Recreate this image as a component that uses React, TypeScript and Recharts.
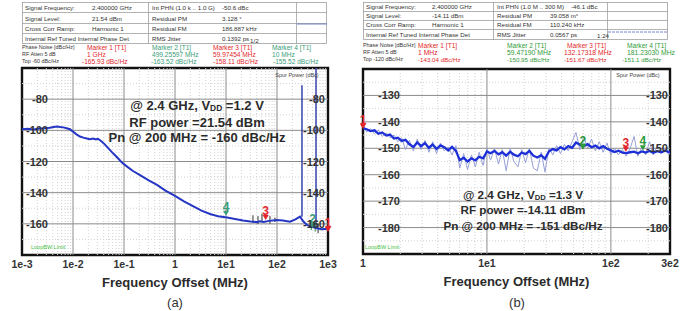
import React from 'react'
import { ComposedChart, Line, XAxis, YAxis, ReferenceLine, ReferenceArea, ReferenceDot } from 'recharts'

const FONT = '"Liberation Sans", Arial, Helvetica, sans-serif'
const RED = '#e3262c'
const GREEN_A = '#3a9e7a'
const GREEN_B = '#2f9a3a'
const INK = '#333'

// (a) VDD = 1.2 V, offset in MHz, phase noise in dBc/Hz
const freqA = [
  0.001, 0.0013, 0.0017, 0.0022, 0.0028, 0.0035, 0.0042, 0.0048, 0.0056, 0.0065,
  0.0075, 0.0087, 0.01, 0.0115, 0.0137, 0.016, 0.0185, 0.0215, 0.025, 0.028,
  0.031, 0.036, 0.042, 0.046, 0.058, 0.073, 0.09, 0.115, 0.15, 0.206,
  0.3, 0.444, 0.65, 1, 1.5, 2.25, 3.3, 4.86, 7, 10.5,
  15, 21.5, 30, 40, 46.4, 55, 70, 100, 130, 180,
  230, 282, 330, 387, 450, 520, 608, 750, 1000,
]
const pnA = [
  -99.3, -99.0, -99.4, -98.8, -98.7, -98.3, -97.9, -97.6, -97.9, -98.1,
  -98.7, -99.3, -100.8, -102.4, -104.0, -104.7, -105.2, -105.7, -105.3, -105.9,
  -105.4, -107.0, -109.0, -110.5, -114.0, -117.3, -120.5, -123.3, -126.1, -128.7,
  -131.9, -135.0, -138.7, -142.1, -145.6, -148.6, -151.5, -153.7, -155.1, -156.0,
  -156.9, -157.9, -158.5, -158.9, -158.4, -158.8, -158.1, -157.5, -157.9, -158.6,
  -157.1, -155.4, -158.5, -160.7, -161.6, -162.2, -162.9, -163.4, -163.1,
]
const xTicksA = [0.001, 0.01, 0.1, 1, 10, 100, 1000]
const xLabelsA = ['1e-3', '1e-2', '1e-1', '1', '1e1', '1e2', '1e3']
const yTicksA = [-80, -100, -120, -140, -160]
const yMinorA = [-70, -90, -110, -130, -150, -170]
const markerFreqA = [1000, 499.26, 59.97, 10]
const markerPnA = [-165.93, -163.52, -158.11, -155.52]
const spurLineFreqA = [309, 582]
const spurLineTopA = [-71, -60]
const spurLineBottomA = [-155.4, -162.4]
const spurTickFreqA = [33.8, 42.4, 50.8, 72.9, 91.2, 470, 560, 640]
const spurTickHiA = [-154.5, -155, -153.5, -155, -156, -158, -159, -160]
const spurTickLoA = [-159.5, -160, -159, -160, -158.8, -164, -165, -166]

// (b) VDD = 1.3 V
const freqB = [
  1, 1.07, 1.15, 1.24, 1.33, 1.43, 1.54, 1.65, 1.78, 1.91,
  2.05, 2.2, 2.37, 2.55, 2.74, 2.94, 3.16, 3.4, 3.65, 3.92,
  4.22, 4.53, 4.87, 5.23, 5.62, 6.04, 6.49, 6.98, 7.5, 8.06,
  8.66, 9.31, 10, 10.7, 11.5, 12.4, 13.3, 14.3, 15.4, 16.5,
  17.8, 19.1, 20.5, 22, 23.7, 25.5, 27.4, 29.4, 31.6, 34,
  36.5, 39.2, 42.2, 45.3, 48.7, 52.3, 56.2, 60.4, 64.9, 69.8,
  75, 80.6, 86.6, 93.1, 100, 107, 115, 124, 133, 143,
  154, 165, 178, 191, 205, 220, 237, 255, 274, 294,
  300,
]
const pnB = [
  -142.4, -142.8, -143.5, -143.2, -144.5, -144.0, -145.2, -144.8, -146.3, -146.0,
  -147.2, -146.8, -148.5, -149.5, -147.8, -149.2, -148.0, -149.8, -148.6, -150.2,
  -148.9, -149.6, -150.8, -149.5, -151.0, -154.5, -153.6, -155.0, -153.8, -154.6,
  -153.2, -153.8, -151.2, -151.9, -151.0, -152.3, -151.5, -152.8, -151.3, -152.4,
  -153.0, -151.6, -152.2, -151.0, -152.8, -153.5, -152.6, -154.0, -151.2, -150.3,
  -150.8, -149.6, -150.4, -149.2, -149.8, -147.8, -148.6, -149.2, -148.4, -149.6,
  -149.0, -150.0, -149.2, -150.2, -150.8, -151.4, -150.9, -151.6, -151.8, -151.5,
  -151.3, -151.9, -151.2, -151.6, -151.0, -151.7, -151.1, -151.5, -150.9, -151.4,
  -151.2,
]
const rawB = [
  -141.5, -143.8, -142.6, -144.5, -143.0, -145.5, -144.2, -146.0, -145.0, -147.5,
  -146.0, -150.5, -147.0, -151.0, -146.5, -150.5, -147.0, -151.5, -147.5, -152.0,
  -148.0, -151.0, -149.5, -152.5, -149.0, -157.5, -152.0, -158.0, -152.5, -157.0,
  -151.5, -156.5, -150.0, -154.5, -150.0, -156.0, -150.5, -158.5, -150.0, -155.0,
  -157.0, -150.5, -155.5, -150.0, -157.5, -158.5, -151.5, -159.0, -150.0, -152.5,
  -149.0, -152.0, -148.5, -151.0, -147.5, -144.0, -150.5, -145.5, -150.0, -146.5,
  -151.0, -147.5, -151.5, -148.0, -152.5, -150.0, -152.5, -150.5, -153.0, -150.0,
  -145.5, -153.0, -149.5, -152.5, -147.5, -152.5, -149.0, -152.0, -150.0, -152.5,
  -151.0,
]
const xTicksB = [1, 10, 100, 300]
const xLabelsB = ['1', '1e1', '1e2', '3e2']
const yTicksB = [-130, -140, -150, -160, -170, -180]
const yMinorB = [-125, -135, -145, -155, -165, -175, -185]
const markerFreqB = [1, 59.47, 132.17, 181.23]
const markerPnB = [-143.04, -150.95, -151.67, -151.1]

const minorSteps = [2, 3, 4, 5, 6, 7, 8, 9]

const yTick = (shift: number) => (p: any) => (
  <text x={p.x + shift} y={p.y} dy={4} textAnchor="end" fontSize={11} fontWeight="bold"
    fill={INK} fontFamily={FONT}>{p.payload.value}</text>
)

const markerShape = (id: string, color: string) => (p: any) => (
  <g>
    <text x={p.cx} y={p.cy - 10} dy={4} textAnchor="middle" fontSize={12} fontWeight="bold"
      fill={color} fontFamily={FONT}>{id}</text>
    <path d={`M${p.cx - 3},${p.cy - 6} L${p.cx + 3},${p.cy - 6} L${p.cx},${p.cy - 1} Z`} fill={color} />
  </g>
)

type PanelProps = {
  left: number
  width: number
  margin: { top: number; right: number; bottom: number; left: number }
  freq: number[]
  series: number[][]
  colors: string[]
  widths: number[]
  xDomain: [number, number]
  xTicks: number[]
  xLabels: string[]
  yDomain: [number, number]
  yTicks: number[]
  yMinor: number[]
  markerF: number[]
  markerP: number[]
  markerGreen: string
  shiftL: number
  shiftR: number
  children?: React.ReactNode
}

const PhasePanel = (pp: PanelProps) => {
  const data = pp.freq.map((f, i) => {
    const row: Record<string, number> = { f }
    pp.series.forEach((s, k) => { row['s' + k] = s[i] })
    return row
  })
  const decades = pp.xTicks.filter(t => Math.log10(t) % 1 === 0 && t < pp.xDomain[1])
  const xMinor = decades.flatMap(d => minorSteps.map(m => d * m)).filter(v => v < pp.xDomain[1])
  const xMajor = decades.filter(d => d > pp.xDomain[0])
  const label = (v: number) => {
    const i = pp.xTicks.findIndex(t => Math.abs(t - v) / t < 1e-6)
    return i >= 0 ? pp.xLabels[i] : ''
  }
  return (
    <div style={{ position: 'absolute', left: pp.left, top: 0 }}>
      <ComposedChart width={pp.width} height={311} data={data} margin={pp.margin}>
        <XAxis dataKey="f" type="number" scale="log" domain={pp.xDomain} ticks={pp.xTicks}
          interval={0} allowDataOverflow axisLine={false} tickLine={false} tickSize={3} tickMargin={3}
          height={40} tickFormatter={label}
          tick={{ fontSize: 10.5, fontWeight: 'bold', fill: INK, fontFamily: FONT }}
          label={{ value: 'Frequency Offset (MHz)', position: 'insideBottom', offset: 8,
            style: { fontSize: 13, fontWeight: 'bold', fill: '#2a2a2a', fontFamily: FONT } }} />
        <YAxis yAxisId="l" orientation="left" width={1} domain={pp.yDomain} ticks={pp.yTicks}
          interval={0} allowDataOverflow axisLine={false} tickLine={false} tickSize={0} tickMargin={0}
          tick={yTick(pp.shiftL)} />
        <YAxis yAxisId="r" orientation="right" width={1} domain={pp.yDomain} ticks={pp.yTicks}
          interval={0} allowDataOverflow axisLine={false} tickLine={false} tickSize={0} tickMargin={0}
          tick={yTick(pp.shiftR)} />
        {xMinor.map(v => (
          <ReferenceLine key={'xm' + v} yAxisId="l" x={v} stroke="#d2d2d2" strokeDasharray="1 2" />
        ))}
        {pp.yMinor.map(v => (
          <ReferenceLine key={'ym' + v} yAxisId="l" y={v} stroke="#d2d2d2" strokeDasharray="1 2" />
        ))}
        {xMajor.map(v => (
          <ReferenceLine key={'xM' + v} yAxisId="l" x={v} stroke="#8c8c8c" />
        ))}
        {pp.yTicks.map(v => (
          <ReferenceLine key={'yM' + v} yAxisId="l" y={v} stroke="#8c8c8c" />
        ))}
        {pp.children}
        {pp.series.map((_, k) => (
          <Line key={'s' + k} yAxisId="l" dataKey={'s' + k} stroke={pp.colors[k]} strokeWidth={pp.widths[k]}
            dot={false} isAnimationActive={false} />
        ))}
        {pp.markerF.map((f, i) => (
          <ReferenceDot key={'mk' + i} yAxisId="l" x={f} y={pp.markerP[i]} ifOverflow="visible"
            shape={markerShape(String(i + 1), i % 2 === 0 ? RED : pp.markerGreen)} />
        ))}
        <ReferenceArea yAxisId="l" x1={pp.xDomain[0]} x2={pp.xDomain[1]} y1={pp.yDomain[0]} y2={pp.yDomain[1]}
          fill="none" fillOpacity={0} stroke="#111" strokeWidth={2.4} ifOverflow="visible" />
      </ComposedChart>
    </div>
  )
}

type Txt = [number, number, string, string?, number?]

const headA: Txt[] = [
  [25, 7, 'Signal Frequency:'], [92, 7, '2.400000 GHz'], [152, 7, 'Int PHN (1.0 k .. 1.0 G)'], [222, 7, '-50.6 dBc'],
  [25, 18, 'Signal Level:'], [92, 18, '21.54 dBm'], [152, 18, 'Residual PM'], [222, 18, '3.128 °'],
  [25, 28, 'Cross Corr Ramp:'], [92, 28, 'Harmonic 1'], [152, 28, 'Residual FM'], [222, 28, '186.887 kHz'],
  [25, 38, 'Internal Ref Tuned Internal Phase Det'], [152, 38, 'RMS Jitter'], [222, 38, '0.1392 ps'], [250, 40, '1/2'],
  [22, 47, 'Phase Noise [dBc/Hz]', INK, 5.4], [87, 47, 'Marker 1 [T1]', RED, 6.6], [152, 47, 'Marker 2 [T1]', GREEN_A, 6.6],
  [213, 47, 'Marker 3 [T1]', RED, 6.6], [272, 47, 'Marker 4 [T1]', GREEN_A, 6.6],
  [22, 54, 'RF Atten   5 dB', INK, 5.4], [87, 54, '1 GHz', RED, 6.6], [152, 54, '499.25597 MHz', GREEN_A, 6.6],
  [213, 54, '59.97454 MHz', RED, 6.6], [272, 54, '10 MHz', GREEN_A, 6.6],
  [22, 61, 'Top -60 dBc/Hz', INK, 5.4], [82, 61, '-165.93 dBc/Hz', RED, 6.6], [151, 61, '-163.52 dBc/Hz', GREEN_A, 6.6],
  [213, 61, '-158.11 dBc/Hz', RED, 6.6], [273, 61, '-155.52 dBc/Hz', GREEN_A, 6.6],
]

const headB: Txt[] = [
  [366, 6, 'Signal Frequency:'], [432, 6, '2.400000 GHz'], [497, 6, 'Int PHN (1.0 M .. 300 M)'], [571, 6, '-46.1 dBc'],
  [366, 15, 'Signal Level:'], [432, 15, '-14.11 dBm'], [497, 15, 'Residual PM'], [550, 15, '39.058 m°'],
  [366, 24, 'Cross Corr Ramp:'], [432, 24, 'Harmonic 1'], [497, 24, 'Residual FM'], [550, 24, '110.240 kHz'],
  [366, 34, 'Internal Ref Tuned Internal Phase Det'], [497, 34, 'RMS Jitter'], [550, 34, '0.0567 ps'], [597, 35, '1:24'],
  [363, 45, 'Phase Noise [dBc/Hz]', INK, 5.4], [418, 45, 'Marker 1 [T1]', RED, 6.6], [507, 45, 'Marker 2 [T1]', GREEN_B, 6.6],
  [567, 45, 'Marker 3 [T1]', RED, 6.6], [627, 45, 'Marker 4 [T1]', GREEN_B, 6.6],
  [363, 52, 'RF Atten   5 dB', INK, 5.4], [418, 52, '1 MHz', RED, 6.8], [507, 52, '59.47190 MHz', GREEN_B, 6.8],
  [564, 52, '132.17318 MHz', RED, 6.8], [627, 52, '181.23030 MHz', GREEN_B, 6.8],
  [363, 59, 'Top -120 dBc/Hz', INK, 5.4], [418, 59, '-143.04 dBc/Hz', RED, 6.2], [507, 59, '-150.95 dBc/Hz', GREEN_B, 6.2],
  [564, 59, '-151.67 dBc/Hz', RED, 6.2], [622, 59, '-151.1 dBc/Hz', GREEN_B, 6.2],
]

const TextRows = ({ rows }: { rows: Txt[] }) => (
  <>
    {rows.map(([x, y, t, c, s], i) => (
      <text key={i} x={x} y={y} dominantBaseline="central" fontSize={s ?? 6.2} fill={c ?? INK}>{t}</text>
    ))}
  </>
)

const Note = ({ cx, ys, size, vdd, power, pn }: { cx: number; ys: number[]; size: number; vdd: string; power: string; pn: string }) => (
  <g fontSize={size} fontWeight="bold" fill="#2b2b2b" textAnchor="middle">
    <text x={cx} y={ys[0]} dominantBaseline="central">
      {'@ 2.4 GHz,   V'}<tspan fontSize={size * 0.65} dy={3}>DD</tspan><tspan dy={-3}>{' =' + vdd}</tspan>
    </text>
    <text x={cx} y={ys[1]} dominantBaseline="central">{power}</text>
    <text x={cx} y={ys[2]} dominantBaseline="central">{pn}</text>
  </g>
)

const Overlay = () => (
  <svg width={693} height={311} style={{ position: 'absolute', left: 0, top: 0, pointerEvents: 'none' }}
    fontFamily={FONT}>
    <g stroke="#a0a0a0" strokeWidth={0.8} fill="none">
      <rect x={22.5} y={2.5} width={304} height={41} />
      <line x1={22} y1={12.5} x2={327} y2={12.5} />
      <line x1={22} y1={23.5} x2={327} y2={23.5} />
      <line x1={22} y1={33.5} x2={327} y2={33.5} />
      <line x1={148.5} y1={2} x2={148.5} y2={44} />
      <line x1={296.5} y1={2} x2={296.5} y2={44} />
      <rect x={363.5} y={2.5} width={304} height={37} />
      <line x1={363} y1={11.5} x2={668} y2={11.5} />
      <line x1={363} y1={20.5} x2={668} y2={20.5} />
      <line x1={363} y1={29.5} x2={668} y2={29.5} />
      <line x1={493.5} y1={2} x2={493.5} y2={40} />
      <line x1={607.5} y1={2} x2={607.5} y2={40} />
    </g>
    <line x1={297} y1={24} x2={327} y2={24} stroke="#6a76c8" strokeWidth={0.9} />
    <line x1={608} y1={32} x2={667} y2={32} stroke="#6a76c8" strokeWidth={0.9} strokeDasharray="3 1" />
    <TextRows rows={headA} />
    <TextRows rows={headB} />
    <text x={297} y={75} fontSize={5.5} fill="#444" textAnchor="middle" dominantBaseline="central">Spur Power (dBc)</text>
    <text x={638} y={75} fontSize={5.5} fill="#444" textAnchor="middle" dominantBaseline="central">Spur Power (dBc)</text>
    <text x={31} y={247} fontSize={5.5} fill="#3fbf3f" dominantBaseline="central">LoopBW Limit</text>
    <text x={365} y={247} fontSize={5.5} fill="#3fbf3f" dominantBaseline="central">LoopBW Limit</text>
    <Note cx={197} ys={[105, 122, 137]} size={13} vdd="1.2 V" power="RF power =21.54 dBm"
      pn="Pn @ 200 MHz = -160 dBc/Hz" />
    <Note cx={523} ys={[194, 209, 225]} size={11.7} vdd="1.3 V" power="RF power =-14.11 dBm"
      pn="Pn @ 200 MHz = -151 dBc/Hz" />
    <text x={175} y={302} fontSize={13} fill={INK} textAnchor="middle" dominantBaseline="central">(a)</text>
    <text x={517} y={302} fontSize={13} fill={INK} textAnchor="middle" dominantBaseline="central">(b)</text>
  </svg>
)

export default function App() {
  return (
    <div style={{ position: 'absolute', left: 0, top: 0, width: 693, height: 311, background: '#fff',
      fontFamily: FONT, overflow: 'hidden' }}>
      <PhasePanel left={0} width={340} margin={{ top: 68, right: 11, bottom: 16, left: 21 }}
        freq={freqA} series={[pnA]} colors={['#2536c4']} widths={[2]}
        xDomain={[0.001, 1000]} xTicks={xTicksA} xLabels={xLabelsA}
        yDomain={[-180, -60]} yTicks={yTicksA} yMinor={yMinorA}
        markerF={markerFreqA} markerP={markerPnA} markerGreen={GREEN_A} shiftL={26} shiftR={-3}>
        {spurLineFreqA.map((f, i) => (
          <ReferenceLine key={'sl' + i} yAxisId="l" stroke="#2b38a8" strokeWidth={1.4}
            segment={[{ x: f, y: spurLineTopA[i] }, { x: f, y: spurLineBottomA[i] }]} />
        ))}
        {spurTickFreqA.map((f, i) => (
          <ReferenceLine key={'st' + i} yAxisId="l" stroke={i === 5 || i === 6 ? '#2e8b57' : '#333'} strokeWidth={1}
            segment={[{ x: f, y: spurTickHiA[i] }, { x: f, y: spurTickLoA[i] }]} />
        ))}
      </PhasePanel>
      <PhasePanel left={341} width={352} margin={{ top: 69, right: 22, bottom: 17, left: 21 }}
        freq={freqB} series={[rawB, pnB]} colors={['#97a0d6', '#1d2fd6']} widths={[1, 2.3]}
        xDomain={[1, 300]} xTicks={xTicksB} xLabels={xLabelsB}
        yDomain={[-190, -120]} yTicks={yTicksB} yMinor={yMinorB}
        markerF={markerFreqB} markerP={markerPnB} markerGreen={GREEN_B} shiftL={37} shiftR={-2} />
      <Overlay />
    </div>
  )
}
